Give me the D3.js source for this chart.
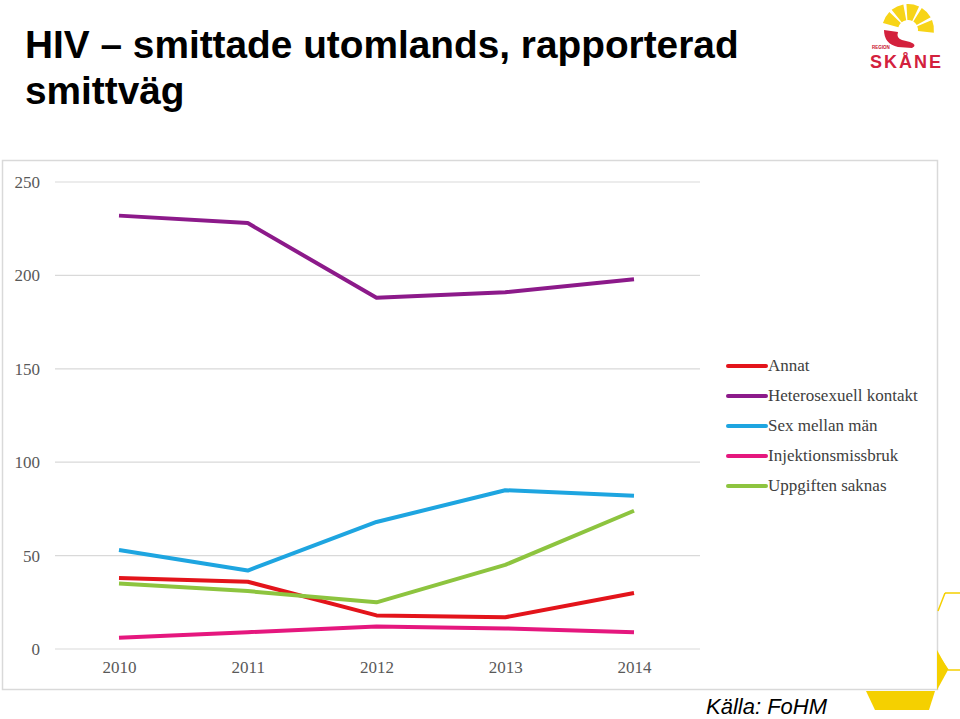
<!DOCTYPE html>
<html><head><meta charset="utf-8">
<script src="https://cdn.jsdelivr.net/npm/d3@7"></script>
<style>body{margin:0;background:#fff;}svg{display:block;}</style>
</head><body>
<script>
const years = ["2010","2011","2012","2013","2014"];
const seriesNames = ["Annat","Heterosexuell kontakt","Sex mellan män","Injektionsmissbruk","Uppgiften saknas"];
const seriesColors = ["#e3141b","#8c1a8a","#1ea5e0","#e5177e","#8dc43f"];
const annat = [38,36,18,17,30];
const hetero = [232,228,188,191,198];
const msm = [53,42,68,85,82];
const injektion = [6,9,12,11,9];
const saknas = [35,31,25,45,74];
const yTicks = [0,50,100,150,200,250];
const seriesValues = [annat,hetero,msm,injektion,saknas];

const W=960,H=719;
const svg=d3.select("body").append("svg").attr("width",W).attr("height",H);

// Title
const title=svg.append("text").attr("x",25).attr("font-family","Liberation Sans, Arial, sans-serif")
 .attr("font-weight","bold").attr("font-size",38.8).attr("fill","#000");
title.append("tspan").attr("x",25).attr("y",58).text("HIV – smittade utomlands, rapporterad");
title.append("tspan").attr("x",25).attr("y",104).text("smittväg");

// Chart panel
svg.append("rect").attr("x",2.5).attr("y",160.5).attr("width",935).attr("height",529)
 .attr("fill","#fff").attr("stroke","#d9d9d9").attr("stroke-width",1.5);

const x=d3.scalePoint().domain(years).range([119,634]);
const y=d3.scaleLinear().domain([0,250]).range([649,182]);

// gridlines
svg.append("g").selectAll("line").data(yTicks).join("line")
 .attr("x1",55).attr("x2",700).attr("y1",d=>y(d)).attr("y2",d=>y(d))
 .attr("stroke","#d9d9d9").attr("stroke-width",1.2);

const yAxis=svg.append("g").attr("transform","translate(40,0)")
 .call(d3.axisLeft(y).tickValues(yTicks).tickSize(0).tickPadding(0));
yAxis.select(".domain").remove();
yAxis.selectAll("text").attr("font-family","Liberation Serif, Times New Roman, serif")
 .attr("font-size",17).attr("fill","#595959");

const xAxis=svg.append("g").attr("transform","translate(0,661)")
 .call(d3.axisBottom(x).tickSize(0).tickPadding(0));
xAxis.select(".domain").remove();
xAxis.selectAll("text").attr("font-family","Liberation Serif, Times New Roman, serif")
 .attr("font-size",17).attr("fill","#595959").attr("dy","0.71em");

const line=d3.line().x((d,i)=>x(years[i])).y(d=>y(d));
svg.append("g").selectAll("path").data(seriesValues).join("path")
 .attr("d",d=>line(d)).attr("fill","none")
 .attr("stroke",(d,i)=>seriesColors[i]).attr("stroke-width",4).attr("stroke-linejoin","round");

// Legend
const lg=svg.append("g").selectAll("g").data(seriesNames).join("g")
 .attr("transform",(d,i)=>`translate(728,${366+i*30})`);
lg.append("line").attr("x1",0).attr("x2",38).attr("stroke",(d,i)=>seriesColors[i]).attr("stroke-width",4).attr("stroke-linecap","round");
lg.append("text").attr("x",40).attr("y",5).text(d=>d)
 .attr("font-family","Liberation Serif, Times New Roman, serif").attr("font-size",17).attr("fill","#404040");

// Source
svg.append("text").attr("x",706).attr("y",714).text("Källa: FoHM")
 .attr("font-family","Liberation Sans, Arial, sans-serif").attr("font-style","italic")
 .attr("font-size",22).attr("fill","#000");

// Decorative yellow shapes
svg.append("path").attr("d","M945,593 L960,593 M945,593 L938,611 M938,655 L948,670 L960,670")
 .attr("fill","none").attr("stroke","#f5d000").attr("stroke-width",1.5);
svg.append("path").attr("d","M937,650 L948,670 L937,690 Z").attr("fill","#f5d000");
svg.append("path").attr("d","M866,691 L935,691 L929,710 L875,710 Z").attr("fill","#f5d000");

// Logo
const logo=svg.append("g");
const cx=908,cy=30;
const arc=d3.arc();
for(let k=0;k<5;k++){
  const a0=-1.3+k*0.62, a1=a0+0.5;
  logo.append("path").attr("transform",`translate(${cx},${cy})`)
   .attr("d",arc({innerRadius:10,outerRadius:26,startAngle:a0,endAngle:a1})).attr("fill","#f7d417");
}
logo.append("path").attr("d","M884,30 Q884,44 898,47 L912,48 Q918,45 910,42 L902,40 Q896,38 898,32 Z").attr("fill","#d3213d");
logo.append("text").attr("x",872).attr("y",49).text("REGION").attr("font-family","Liberation Sans, Arial, sans-serif")
 .attr("font-size",4.5).attr("font-weight","bold").attr("fill","#c8102e");
logo.append("text").attr("x",870).attr("y",68).text("SKÅNE").attr("font-family","Liberation Sans, Arial, sans-serif")
 .attr("font-size",18).attr("font-weight","bold").attr("fill","#d3213d").attr("textLength",71);
</script>
</body></html>
